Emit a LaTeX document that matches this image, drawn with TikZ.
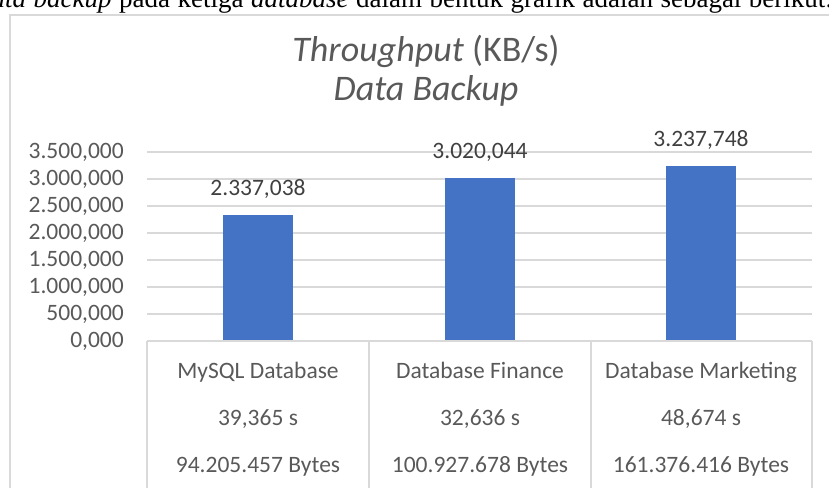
\documentclass[tikz,border=0pt]{standalone}
\usepackage{fontspec}
\setmainfont{Carlito}
\newfontfamily\paperfont{Liberation Serif}
\usepackage{xcolor}
\usetikzlibrary{positioning}
\definecolor{barblue}{HTML}{4472C4}
\definecolor{framegray}{HTML}{D9D9D9}
\definecolor{axisgray}{HTML}{595959}
\definecolor{valgray}{HTML}{404040}

\begin{document}
\begin{tikzpicture}[x=1pt, y=-1pt,
  tick/.style={anchor=east, inner sep=0pt, text=axisgray,
               font=\fontsize{23.5}{28}\selectfont},
  gridline/.style={draw=framegray, line width=1.4pt},
  bar/.style={fill=barblue, draw=none, inner sep=0pt, outer sep=0pt,
              minimum width=70pt, anchor=south},
  vallbl/.style={inner sep=0pt, text=valgray, font=\fontsize{23.5}{28}\selectfont},
  cell/.style={anchor=base, inner sep=0pt, text=axisgray,
               font=\fontsize{23.5}{28}\selectfont},
  ttl/.style={inner sep=0pt, text=axisgray, font=\fontsize{36}{43}\selectfont}
]
\useasboundingbox (0,0) rectangle (829,487);
\clip (0,0) rectangle (829,487);

% line of the paper above the chart, cut at the top
\node[anchor=base west, inner sep=0pt, font=\paperfont\fontsize{27}{32}\selectfont]
  (para) at (-22,8) {\spaceskip=7.5pt\relax\textit{data backup} pada ketiga \textit{database} dalam bentuk grafik adalah sebagai berikut:};

% chart frame
\draw[framegray, line width=1.4pt] (10,500) -- (10,15) -- (840,15);

% title
\node[ttl, anchor=base] (title1) at (426,62) {\textit{Throughput} (KB/s)};
\node[ttl, anchor=base] (title2) at (426,100) {\textit{Data Backup}};

% grid
\draw[gridline] (147,152) -- (812,152);
\draw[gridline] (147,179) -- (812,179);
\draw[gridline] (147,206) -- (812,206);
\draw[gridline] (147,233) -- (812,233);
\draw[gridline] (147,260) -- (812,260);
\draw[gridline] (147,287) -- (812,287);
\draw[gridline] (147,314) -- (812,314);

% value axis
\node[tick] (t35) at (124,152) {3.500,000};
\node[tick] (t30) at (124,179) {3.000,000};
\node[tick] (t25) at (124,206) {2.500,000};
\node[tick] (t20) at (124,233) {2.000,000};
\node[tick] (t15) at (124,260) {1.500,000};
\node[tick] (t10) at (124,287) {1.000,000};
\node[tick] (t05) at (124,314) {500,000};
\node[tick] (t00) at (124,341) {0,000};

% bars
\node[bar, minimum height=126.2pt] (bar1) at (258,341) {};
\node[bar, minimum height=163.1pt] (bar2) at (480,341) {};
\node[bar, minimum height=174.8pt] (bar3) at (701,341) {};

\node[vallbl, above=16pt of bar1] (v1) {2.337,038};
\node[vallbl, above=16pt of bar2] (v2) {3.020,044};
\node[vallbl, above=16pt of bar3] (v3) {3.237,748};

% data table under the axis
\draw[gridline] (147,341) -- (812,341);
\draw[gridline] (147,341) -- (147,500);
\draw[gridline] (369,341) -- (369,500);
\draw[gridline] (591,341) -- (591,500);
\draw[gridline] (812,341) -- (812,500);

\node[cell] (c1) at (258,378) {MySQL Database};
\node[cell] (c2) at (480,378) {Database Finance};
\node[cell] (c3) at (701,378) {Database Marketing};
\node[cell] (s1) at (258,425) {39,365 s};
\node[cell] (s2) at (480,425) {32,636 s};
\node[cell] (s3) at (701,425) {48,674 s};
\node[cell] (b1) at (258,472) {94.205.457 Bytes};
\node[cell] (b2) at (480,472) {100.927.678 Bytes};
\node[cell] (b3) at (701,472) {161.376.416 Bytes};
\end{tikzpicture}
\end{document}
